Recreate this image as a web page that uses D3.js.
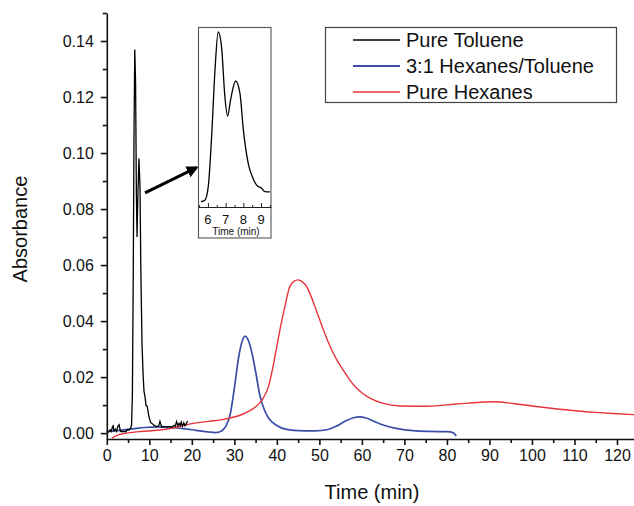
<!DOCTYPE html>
<html>
<head>
<meta charset="utf-8">
<script src="https://cdn.jsdelivr.net/npm/d3@7"></script>
<style>
  html, body { margin: 0; padding: 0; background: #fff; }
  svg { display: block; font-family: "Liberation Sans", Arial, sans-serif; }
</style>
</head>
<body>
<svg id="chart" width="634" height="506"></svg>
<script>
// ---------- data ----------
const xTicks = [0, 10, 20, 30, 40, 50, 60, 70, 80, 90, 100, 110, 120];
const yTicks = [0.00, 0.02, 0.04, 0.06, 0.08, 0.10, 0.12, 0.14];
const insetTicks = [6, 7, 8, 9];
const seriesNames = ["Pure Toluene", "3:1 Hexanes/Toluene", "Pure Hexanes"];
const seriesColors = ["#000000", "#3a4ea8", "#e8333b"];

const tolueneT = [0, 0.4, 0.8, 1.1, 1.3, 1.5, 1.7, 2.0, 2.3, 2.6, 2.9, 3.2, 3.6, 4.0, 4.5, 4.8, 5.2, 5.6,
  5.83, 6.02, 6.21, 6.40, 6.58, 6.77, 6.96, 7.11, 7.28, 7.56, 7.81, 8.0, 8.28, 8.56, 8.75, 9.03, 9.22, 9.5,
  9.9, 10.3, 11.0, 11.7, 12.2, 12.5, 12.9, 13.3, 13.8, 14.5, 15.0, 15.4, 15.8, 16.1, 16.4, 16.7, 17.0, 17.3,
  17.5, 17.8, 18.1, 18.4, 18.7, 19.0];
const tolueneA = [0.0008, 0.0004, 0.0012, 0.0006, 0.0022, 0.0026, 0.0008, 0.0014, 0.0006, 0.0024, 0.003, 0.0007, 0.0005, 0.0006, 0.0005, 0.0012, 0.0011, 0.0018,
  0.003, 0.014, 0.054, 0.107, 0.137, 0.125, 0.085, 0.070, 0.083, 0.098, 0.088, 0.059, 0.032, 0.020, 0.015, 0.0125, 0.0098, 0.0096,
  0.006, 0.0038, 0.003, 0.0023, 0.0026, 0.0042, 0.0022, 0.0024, 0.0022, 0.0023, 0.0023, 0.0022, 0.0028, 0.0024, 0.0041, 0.0026, 0.0035, 0.0027,
  0.0039, 0.0025, 0.0037, 0.0026, 0.0034, 0.0043];

const mixT = [0, 3, 6, 9, 12, 15, 18, 21, 24, 25.5, 27, 28, 29, 30, 31, 32, 32.5, 33, 34, 35, 36, 37, 38, 40, 42, 45, 49,
  52, 54, 56, 58, 59.5, 61, 63, 65, 68, 72, 76, 80, 81.5, 82.2];
const mixA = [0.0005, 0.001, 0.0015, 0.002, 0.0022, 0.002, 0.0016, 0.001, 0.0004, 0.0002, 0.0008, 0.0025, 0.0065, 0.016, 0.027, 0.0335, 0.0346, 0.034, 0.0295, 0.022, 0.0135, 0.0085, 0.0055, 0.0027, 0.0014, 0.0009, 0.0008,
  0.0013, 0.0025, 0.0042, 0.0055, 0.0058, 0.0054, 0.0041, 0.0029, 0.0017, 0.0009, 0.0006, 0.0005, 0.0001, -0.001];

const hexT = [1.2, 2, 3, 5, 8, 12, 16, 20, 24, 28, 31, 33, 35, 36.5, 38, 39, 40, 41, 42, 43, 44, 45, 46, 47, 48, 49, 50, 51, 52, 53,
  54, 55.6, 57, 58.8, 60.5, 62, 65, 69, 75, 80, 85, 91, 96, 100, 105, 110, 115, 120, 124];
const hexA = [-0.0019, -0.0011, -0.0005, 0.0001, 0.0006, 0.001, 0.002, 0.0034, 0.0042, 0.0051, 0.0062, 0.0075, 0.0094, 0.0118, 0.0165, 0.023, 0.031, 0.039, 0.046, 0.0522, 0.0542, 0.0547, 0.054, 0.0523, 0.049, 0.045, 0.0408, 0.0366, 0.0328, 0.0294,
  0.0264, 0.0225, 0.0193, 0.016, 0.0138, 0.0124, 0.0106, 0.0097, 0.0096, 0.0101, 0.0107, 0.0112, 0.0105, 0.0097, 0.0088, 0.008, 0.0074, 0.0069, 0.0066];

// ---------- layout ----------
const svg = d3.select("#chart");
const x = d3.scaleLinear().domain([0, 124]).range([106.8, 634]);
const y = d3.scaleLinear().domain([-0.0021, 0.15]).range([439, 13]);

const zip = (ts, as) => ts.map((t, i) => ({t, a: as[i]}));
const toluene = zip(tolueneT, tolueneA);
const mix = zip(mixT, mixA);
const hex = zip(hexT, hexA);

// axes
const xAxisG = svg.append("g").attr("transform", `translate(0,${y.range()[0]})`);
xAxisG.call(d3.axisBottom(x).tickValues(xTicks).tickSize(6).tickSizeOuter(0).tickPadding(5).tickFormat(d3.format("d")));
const xMinor = svg.append("g").attr("transform", `translate(0,${y.range()[0]})`);
xMinor.call(d3.axisBottom(x).tickValues(xTicks.map(v => v + 5)).tickSize(4).tickSizeOuter(0).tickFormat(""));
xMinor.select(".domain").remove();

const yAxisG = svg.append("g").attr("transform", `translate(${x.range()[0]},0)`);
yAxisG.call(d3.axisLeft(y).tickValues(yTicks).tickSize(6).tickSizeOuter(0).tickPadding(7).tickFormat(d3.format(".2f")));
const yMinor = svg.append("g").attr("transform", `translate(${x.range()[0]},0)`);
yMinor.call(d3.axisLeft(y).tickValues(yTicks.map(v => v + 0.01)).tickSize(4).tickSizeOuter(0).tickFormat(""));
yMinor.select(".domain").remove();

svg.selectAll(".domain, .tick line").attr("stroke", "#111").attr("stroke-width", 1.6);
svg.selectAll(".tick text").attr("font-size", 16).attr("fill", "#111")
  .attr("font-family", "'Liberation Sans', Arial, sans-serif");

// axis titles
svg.append("text").attr("x", 372).attr("y", 499).attr("text-anchor", "middle")
  .attr("font-size", 20).attr("fill", "#111").text("Time (min)");
svg.append("text").attr("transform", "translate(27,229) rotate(-90)").attr("text-anchor", "middle")
  .attr("font-size", 20).attr("fill", "#111").text("Absorbance");

// lines
const line = d3.line().x(d => x(d.t)).y(d => y(d.a));
const smooth = d3.line().x(d => x(d.t)).y(d => y(d.a)).curve(d3.curveMonotoneX);

svg.append("path").datum(mix).attr("d", smooth).attr("fill", "none")
  .attr("stroke", seriesColors[1]).attr("stroke-width", 1.7);
svg.append("path").datum(hex).attr("d", smooth).attr("fill", "none")
  .attr("stroke", seriesColors[2]).attr("stroke-width", 1.4);
svg.append("path").datum(toluene).attr("d", line).attr("fill", "none")
  .attr("stroke", seriesColors[0]).attr("stroke-width", 1.3);

// legend
const lg = svg.append("g");
lg.append("rect").attr("x", 325.5).attr("y", 27.5).attr("width", 291).attr("height", 75)
  .attr("fill", "#fff").attr("stroke", "#444").attr("stroke-width", 1.2);
seriesNames.forEach((name, i) => {
  const yy = 40 + i * 26;
  lg.append("line").attr("x1", 353).attr("x2", 400).attr("y1", yy).attr("y2", yy)
    .attr("stroke", seriesColors[i]).attr("stroke-width", i === 1 ? 2 : 1.4);
  lg.append("text").attr("x", 406).attr("y", yy + 7).attr("font-size", 20).attr("fill", "#111").text(name);
});

// arrow
const defs = svg.append("defs");
defs.append("marker").attr("id", "ah").attr("viewBox", "0 0 10 10").attr("refX", 8).attr("refY", 5)
  .attr("markerWidth", 4).attr("markerHeight", 4).attr("orient", "auto")
  .append("path").attr("d", "M0,0 L10,5 L0,10 Z").attr("fill", "#000");
svg.append("line").attr("x1", x(9.0)).attr("y1", y(0.0858)).attr("x2", x(21.1)).attr("y2", y(0.0948))
  .attr("stroke", "#000").attr("stroke-width", 3).attr("marker-end", "url(#ah)");

// inset
const ix = d3.scaleLinear().domain([5.44, 9.56]).range([198, 271]);
const iy = d3.scaleLinear().domain([-0.0024, 0.141]).range([207, 27]);
const ig = svg.append("g");
ig.append("rect").attr("x", 198.5).attr("y", 27.5).attr("width", 72.5).attr("height", 210.5)
  .attr("fill", "#fff").attr("stroke", "#555").attr("stroke-width", 1.1);
const insetData = toluene.filter(d => d.t >= 5.6 && d.t <= 9.5);
ig.append("path").datum(insetData)
  .attr("d", d3.line().x(d => ix(d.t)).y(d => iy(d.a)).curve(d3.curveMonotoneX))
  .attr("fill", "none").attr("stroke", "#000").attr("stroke-width", 1.3);
const iax = ig.append("g").attr("transform", "translate(0,207)");
iax.call(d3.axisTop(ix).tickValues(insetTicks).tickSize(4).tickSizeOuter(0).tickFormat(""));
const iaxMinor = ig.append("g").attr("transform", "translate(0,207)");
iaxMinor.call(d3.axisTop(ix).tickValues(insetTicks.map(v => v - 0.5).concat([9.5])).tickSize(2).tickSizeOuter(0).tickFormat(""));
iaxMinor.select(".domain").remove();
ig.selectAll(".domain, .tick line").attr("stroke", "#222").attr("stroke-width", 1);
ig.selectAll(".lbl").data(insetTicks).enter().append("text")
  .attr("x", d => ix(d)).attr("y", 224).attr("text-anchor", "middle")
  .attr("font-size", 13).attr("fill", "#111").text(d => d);
ig.append("text").attr("x", 236).attr("y", 235).attr("text-anchor", "middle")
  .attr("font-size", 10).attr("fill", "#111").text("Time (min)");
</script>
</body>
</html>
